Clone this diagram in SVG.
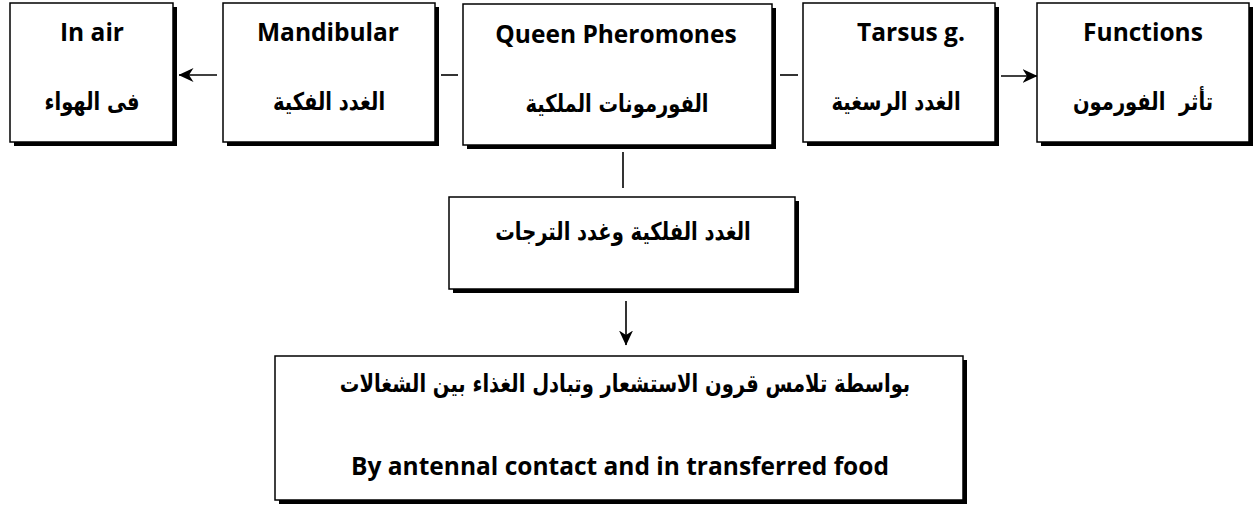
<svg xmlns="http://www.w3.org/2000/svg" width="1254" height="507" viewBox="0 0 1254 507">
  <style>
    .shadow { fill: #000; }
    .box { fill: #fff; stroke: #000; stroke-width: 1.5; }
    .en { font-family: "Open Sans", "Liberation Sans", sans-serif; font-weight: bold; font-size: 24.5px; fill: #000; text-anchor: middle; }
    .ar { font-family: "DejaVu Sans", "Liberation Sans", sans-serif; font-weight: bold; font-size: 19.5px; fill: #000; text-anchor: middle; direction: rtl; unicode-bidi: embed; white-space: pre; }
    .link { stroke: #000; stroke-width: 1.6; fill: none; }
  </style>
  <defs>
    <marker id="head" viewBox="0 0 15 14" refX="14.5" refY="7" markerWidth="15" markerHeight="14" markerUnits="userSpaceOnUse" orient="auto">
      <path d="M0,0 L15,7 L0,14 L4.5,7 Z" fill="#000"/>
    </marker>
  </defs>

  <rect width="1254" height="507" fill="#fff"/>

  <!-- connectors -->
  <g id="connectors">
    <line class="link" x1="217" y1="75" x2="179" y2="75" marker-end="url(#head)"/>
    <line class="link" x1="441" y1="75" x2="458" y2="75"/>
    <line class="link" x1="780" y1="75" x2="798" y2="75"/>
    <line class="link" x1="1001" y1="76" x2="1037" y2="76" marker-end="url(#head)"/>
    <line class="link" x1="623" y1="152" x2="623" y2="188"/>
    <line class="link" x1="626" y1="301" x2="626" y2="345" marker-end="url(#head)"/>
  </g>

  <g id="node-in-air">
    <rect class="shadow" x="14" y="7" width="163" height="139"/>
    <rect class="box" x="10" y="3" width="163" height="139"/>
    <text class="en" x="92" y="41">In air</text>
    <text class="ar" transform="translate(92 110) scale(1 1.25)">فى الهواء</text>
  </g>

  <g id="node-mandibular">
    <rect class="shadow" x="227" y="7" width="212" height="139"/>
    <rect class="box" x="223" y="3" width="212" height="139"/>
    <text class="en" x="328" y="41">Mandibular</text>
    <text class="ar" transform="translate(329 110) scale(1 1.25)">الغدد الفكية</text>
  </g>

  <g id="node-queen">
    <rect class="shadow" x="467" y="8" width="309" height="141"/>
    <rect class="box" x="463" y="4" width="309" height="141"/>
    <text class="en" x="616" y="43">Queen Pheromones</text>
    <text class="ar" transform="translate(617 112) scale(1 1.25)">الفورمونات الملكية</text>
  </g>

  <g id="node-tarsus">
    <rect class="shadow" x="807" y="7" width="192" height="139"/>
    <rect class="box" x="803" y="3" width="192" height="139"/>
    <text class="en" x="911" y="41">Tarsus g.</text>
    <text class="ar" transform="translate(896 110) scale(1 1.25)">الغدد الرسغية</text>
  </g>

  <g id="node-functions">
    <rect class="shadow" x="1041" y="7" width="212" height="139"/>
    <rect class="box" x="1037" y="3" width="212" height="139"/>
    <text class="en" x="1143" y="41">Functions</text>
    <text class="ar" xml:space="preserve" transform="translate(1143 110) scale(1 1.25)">تأثر  الفورمون</text>
  </g>

  <g id="node-glands">
    <rect class="shadow" x="453" y="201" width="346" height="92"/>
    <rect class="box" x="449" y="197" width="346" height="92"/>
    <text class="ar" transform="translate(623 240) scale(1 1.25)">الغدد الفلكية وغدد الترجات</text>
  </g>

  <g id="node-transfer">
    <rect class="shadow" x="279" y="360" width="688" height="144"/>
    <rect class="box" x="275" y="356" width="688" height="144"/>
    <text class="ar" transform="translate(625 392) scale(1 1.25)">بواسطة تلامس قرون الاستشعار وتبادل الغذاء بين الشغالات</text>
    <text class="en" x="620" y="475">By antennal contact and in transferred food</text>
  </g>
</svg>
